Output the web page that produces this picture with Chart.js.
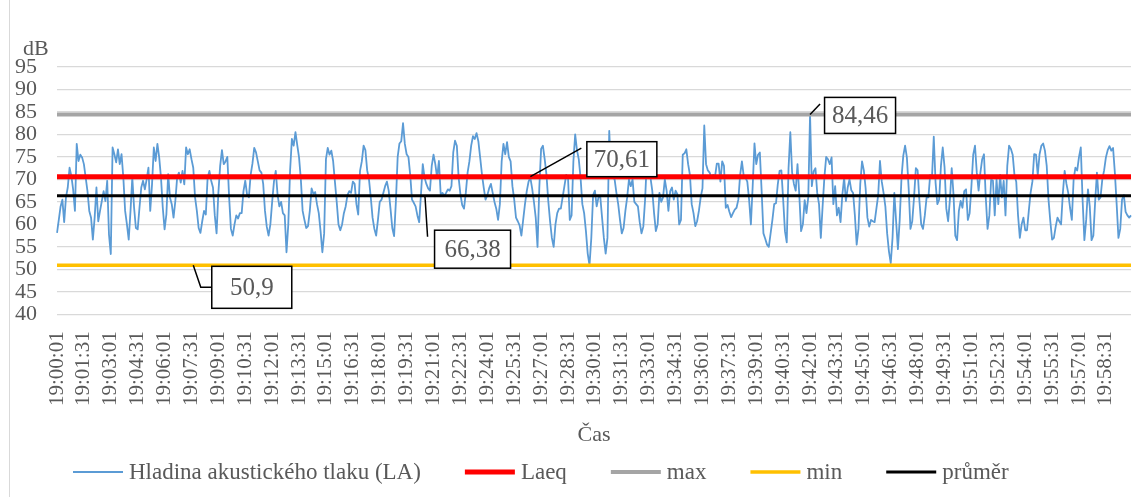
<!DOCTYPE html>
<html lang="cs">
<head>
<meta charset="utf-8">
<title>Hladina akustického tlaku</title>
<script src="https://cdn.jsdelivr.net/npm/chart.js@4.4.1/dist/chart.umd.min.js"></script>
<style>
  html, body { margin: 0; padding: 0; background: #fff; }
  #wrap { position: relative; width: 1134px; height: 497px; }
  #wrap::before { content: ''; position: absolute; left: 9px; top: 0; bottom: 0; border-left: 1px solid #d9d9d9; }
</style>
</head>
<body>
<div id="wrap"><canvas id="noiseChart"></canvas></div>
<script>
const FONT = '"Liberation Serif", "Times New Roman", serif';
const TEXT = '#595959';

// mereni od 19:00:01, jeden vzorek za 6 s
const startSec = 19 * 3600 + 1;
const stepSec = 6;

// LA [dB]
const la = [
  58.1, 61, 64, 65.5, 60.5, 66, 68.2, 72.6, 70.8, 67.8,
  63, 77.9, 74.1, 75.5, 74.9, 73.4, 70.4, 67.4, 63, 61.5,
  56.6, 61.5, 68.2, 60.7, 63, 65.2, 67.4, 65.2, 69.7, 57.7,
  53.4, 77.1, 75.6, 73.8, 76.7, 73.4, 75.6, 70.4, 63, 60,
  56.6, 63, 70.4, 63.7, 59.2, 58.9, 63.7, 68.2, 69.7, 67.8,
  70, 72.6, 63, 68.9, 77.1, 74.1, 77.9, 74.9, 70.4, 63.7,
  58.9, 62.2, 71.2, 66, 64.5, 61.5, 65.2, 70.4, 71.5, 69.3,
  71.9, 68.9, 77.1, 75.6, 76.7, 74.5, 72.6, 66, 63, 59.2,
  58.1, 60.7, 63, 62.2, 70.4, 71.9, 69.7, 68.2,
  62, 58, 67, 73, 76.5, 73.4, 74, 75, 66, 59,
  57.5, 60, 62, 61.3, 62.5, 62.5, 67.4, 69.7, 66.7, 66,
  71, 73.5, 77, 76, 74, 72, 71.5, 69, 63, 59.5,
  57.5, 60, 65, 69.5, 71.9, 66.7, 64, 65, 62.5, 62,
  53.8, 60, 72, 79, 77.5, 80.5, 77.6, 74.9, 70, 63,
  61, 59.2, 59.6, 63, 68, 66.8, 67.2, 64.5, 62.5, 58.5,
  53.8, 58, 74.5, 77, 75.5, 76.4, 74.1, 69.5, 65, 60,
  58.7, 60, 62.5, 64, 66.5, 67.4, 67, 69.5, 69, 64.5,
  62.2, 71.9, 74, 77.5, 76.5, 72, 70,
  66, 61.5, 59, 57.5, 61, 65, 65.5, 67, 68.5, 69.5,
  67.5, 63.5, 59.2, 57.4, 65, 75, 78, 78.5, 82.5, 77.9,
  75.6, 75, 71, 65.5, 64.8, 64, 62, 60.5, 66.7, 73.4,
  70.4, 69, 68, 67.5, 73, 75.5, 73.4, 70.4, 74.1, 66.7,
  67, 66.3, 67, 67.8, 67.5, 68.5, 76, 78.6, 77.5, 70.4,
  66.7, 64.3, 63.5, 67, 71.5, 74, 77.5, 79.6, 79, 80.3,
  78.5, 74.9, 71.2, 68.2, 65.5, 66.5, 68, 69, 67, 65,
  63.5, 61, 64.5, 74, 77.9, 75.6, 78.3, 75, 74, 68.5,
  65.5, 61.5, 60.7, 59.8, 57.5, 61,
  64.5, 67.4, 69.5, 70.4, 68, 65, 61.5, 55, 68.2, 76.8,
  77.5, 74.5, 71, 65.2, 60.7, 57, 55, 60, 62.5, 63.5,
  63.5, 66, 68.5, 71, 70.5, 61, 62, 74, 80, 76.5,
  74.5, 70.4, 64.5, 62.5, 58.5, 53.5, 50.9, 57, 66.5, 67.5,
  64, 66, 66.2, 61.5, 57, 53.5, 57, 80.8, 71.5, 70.5,
  70, 67, 64.5, 61, 58, 59.2, 63, 66, 70, 68.5,
  70, 65, 64.5, 64, 60.5, 58, 59.5, 65.5, 74.5, 78,
  70.4, 67.5, 62.5, 58.5, 60, 67, 65, 66, 70, 67.5,
  63, 67.4, 68.2, 65.5, 67.5, 66.7,
  60, 61, 75.5, 75.8, 76.7, 73.4, 71, 64.5, 62.5, 59.6,
  60.7, 63, 66, 68, 82, 73.4, 72, 71.5, 70.5, 71,
  70.6, 73.5, 73.5, 69.5, 74, 73, 63.7, 64.3, 62.8, 61.6,
  62.5, 63.3, 63.7, 65.5, 71, 74, 70.8, 70.4, 69.5, 65.5,
  60, 68.5, 78, 73.4, 75.5, 76, 67.4, 58, 56.8, 55.5,
  55, 58, 61, 64.5, 64.7, 68.9, 71.9, 72, 65.5, 58.5,
  56, 72.5, 80.5, 71.5, 69, 67.5, 73.4, 66.5, 58.5, 60,
  65.4, 62.5, 66, 84.46, 68.5, 71.8, 72.5, 67, 64.5, 57,
  64, 70.5, 75, 74.5, 73.4, 74.9,
  64.5, 68.5, 62, 63.7, 60.5, 66.5, 70.4, 65.2, 68.2, 70,
  67.6, 67, 62, 55.5, 59, 69, 74, 72, 68, 61.5,
  59.5, 61, 60.7, 60.5, 63.5, 66.5, 74.1, 69.5, 67, 64,
  58, 54, 51.4, 57, 67, 60.7, 54.5, 61, 70.4, 75.3,
  77.5, 74.9, 68, 59, 60.7, 66, 72.5, 72, 65.2, 60,
  59, 62, 66, 66, 71, 70.4, 79.5, 69.3, 64.5, 65.5,
  73, 77.1, 72.8, 63.5, 60.7, 65.5, 72.5, 66.7, 57.5, 56.5,
  63, 65.2, 63.7, 67.4, 67.8, 61, 62.5, 68.5, 75.5, 77.5,
  71.5, 67.5, 71.5, 74.5, 75.6, 66, 59,
  62, 70, 69.7, 62, 70, 64.5, 71, 66, 69.7, 62,
  73, 77.5, 76.8, 75.5, 71, 69.5, 62, 57, 60, 61.5,
  58.7, 58.7, 63, 67, 69.5, 75.6, 75.5, 71, 75.6, 77.5,
  78, 76.4, 73, 65.5, 60.7, 56.6, 57, 59.5, 61.5, 60.7,
  60, 67, 71.9, 69, 67, 63.7, 61, 70, 72.6, 72,
  75, 77.1, 65.5, 56.5, 61, 67.8, 64, 56.5, 57.5, 65,
  71.5, 65.5, 66, 70, 72, 74.9, 76.5, 77.4, 76.4, 77,
  71.5, 64.5, 57, 59, 65.5, 66.5, 62.8, 62, 61.5, 62
];

const laeq = 70.61;
const maxLa = 84.46;
const minLa = 50.9;
const prumer = 66.38;

function hms(sec) {
  const p = n => String(n).padStart(2, '0');
  return Math.floor(sec / 3600) + ':' + p(Math.floor(sec / 60) % 60) + ':' + p(sec % 60);
}
const times = la.map((_, i) => hms(startSec + i * stepSec));
const labelEvery = 90 / stepSec;

const cz = v => String(v).replace('.', ',');

// popisky s hodnotami (odsazeni v px od bodu)
const callouts = [
  { value: maxLa,  index: la.indexOf(maxLa), path: [[10, -10.5]],        box: [14.5, -17, 71, 36] },
  { value: laeq,   index: 264,               path: [[51, -28.5]],        box: [56.5, -35, 70, 35] },
  { value: prumer, index: 205,               path: [[0.5, 2], [3, 41]],  box: [10, 34.5, 76, 38] },
  { value: minLa,  index: 76,                path: [[7.5, 22], [18.5, 22]], box: [18.5, 1, 80, 42] }
];

const extras = {
  id: 'extras',
  afterDatasetsDraw(chart) {
    const { ctx, chartArea, scales: { x, y } } = chart;
    ctx.save();

    ctx.font = '22px ' + FONT;
    ctx.fillStyle = TEXT;
    ctx.textAlign = 'left';
    ctx.textBaseline = 'alphabetic';
    ctx.fillText('dB', chartArea.left - 34, chartArea.top - 12);

    callouts.forEach(c => {
      const ax = x.getPixelForValue(c.index);
      const ay = y.getPixelForValue(c.value);
      ctx.strokeStyle = '#000';
      ctx.lineWidth = 1.5;
      ctx.beginPath();
      ctx.moveTo(ax, ay);
      c.path.forEach(([dx, dy]) => ctx.lineTo(ax + dx, ay + dy));
      ctx.stroke();

      const [bx, by, bw, bh] = [ax + c.box[0], ay + c.box[1], c.box[2], c.box[3]];
      ctx.fillStyle = '#fff';
      ctx.fillRect(bx, by, bw, bh);
      ctx.strokeRect(bx, by, bw, bh);
      ctx.fillStyle = TEXT;
      ctx.font = '25px ' + FONT;
      ctx.textAlign = 'center';
      ctx.textBaseline = 'middle';
      ctx.fillText(cz(c.value), bx + bw / 2, by + bh / 2 + 1);
    });
    ctx.restore();
  },
  afterDraw(chart) {
    // legenda pod grafem
    const { ctx, chartArea } = chart;
    ctx.save();
    ctx.font = '23px ' + FONT;
    ctx.textAlign = 'left';
    ctx.textBaseline = 'middle';
    let lx = chartArea.left + 16;
    const ly = chart.height - 25;
    chart.data.datasets.forEach(ds => {
      ctx.strokeStyle = ds.borderColor;
      ctx.lineWidth = ds.borderWidth;
      ctx.beginPath();
      ctx.moveTo(lx, ly);
      ctx.lineTo(lx + 50, ly);
      ctx.stroke();
      ctx.fillStyle = TEXT;
      ctx.fillText(ds.label, lx + 56, ly + 1);
      lx += 56 + ctx.measureText(ds.label).width + 44;
    });
    ctx.restore();
  }
};

const lineBase = { pointRadius: 0, fill: false, tension: 0, borderJoinStyle: 'round' };

new Chart(document.getElementById('noiseChart'), {
  type: 'line',
  data: {
    labels: times,
    datasets: [
      { ...lineBase, label: 'Hladina akustického tlaku (LA)', data: la, borderColor: '#5B9BD5', borderWidth: 1.8, order: 5 },
      { ...lineBase, label: 'Laeq', data: times.map(() => laeq), borderColor: '#FF0000', borderWidth: 5, order: 4 },
      { ...lineBase, label: 'max', data: times.map(() => maxLa), borderColor: '#A5A5A5', borderWidth: 4, order: 3 },
      { ...lineBase, label: 'min', data: times.map(() => minLa), borderColor: '#FFC000', borderWidth: 3.5, order: 2 },
      { ...lineBase, label: 'průměr', data: times.map(() => prumer), borderColor: '#000000', borderWidth: 3, order: 1 }
    ]
  },
  options: {
    responsive: true,
    maintainAspectRatio: false,
    animation: false,
    events: [],
    layout: { padding: { top: 67, left: 15, right: 3, bottom: 51 } },
    plugins: {
      legend: { display: false },
      tooltip: { enabled: false }
    },
    scales: {
      x: {
        grid: { color: 'transparent', drawOnChartArea: false, drawTicks: true, tickLength: 17 },
        border: { display: false },
        ticks: {
          autoSkip: false,
          maxRotation: 90,
          minRotation: 90,
          padding: 0,
          color: TEXT,
          font: { family: FONT, size: 21 },
          callback: function (value, index) {
            return index % labelEvery === 0 ? this.getLabelForValue(value) : null;
          }
        },
        title: {
          display: true,
          text: 'Čas',
          color: TEXT,
          font: { family: FONT, size: 22, lineHeight: 1 },
          padding: { top: 18, bottom: 0 }
        }
      },
      y: {
        min: 40,
        max: 95,
        grid: { color: '#D9D9D9', lineWidth: 1.3, drawTicks: true, tickLength: 20, tickColor: 'transparent' },
        border: { display: false },
        ticks: {
          stepSize: 5,
          autoSkip: false,
          padding: 0,
          color: TEXT,
          font: { family: FONT, size: 22 }
        }
      }
    }
  },
  plugins: [extras]
});
</script>
</body>
</html>
